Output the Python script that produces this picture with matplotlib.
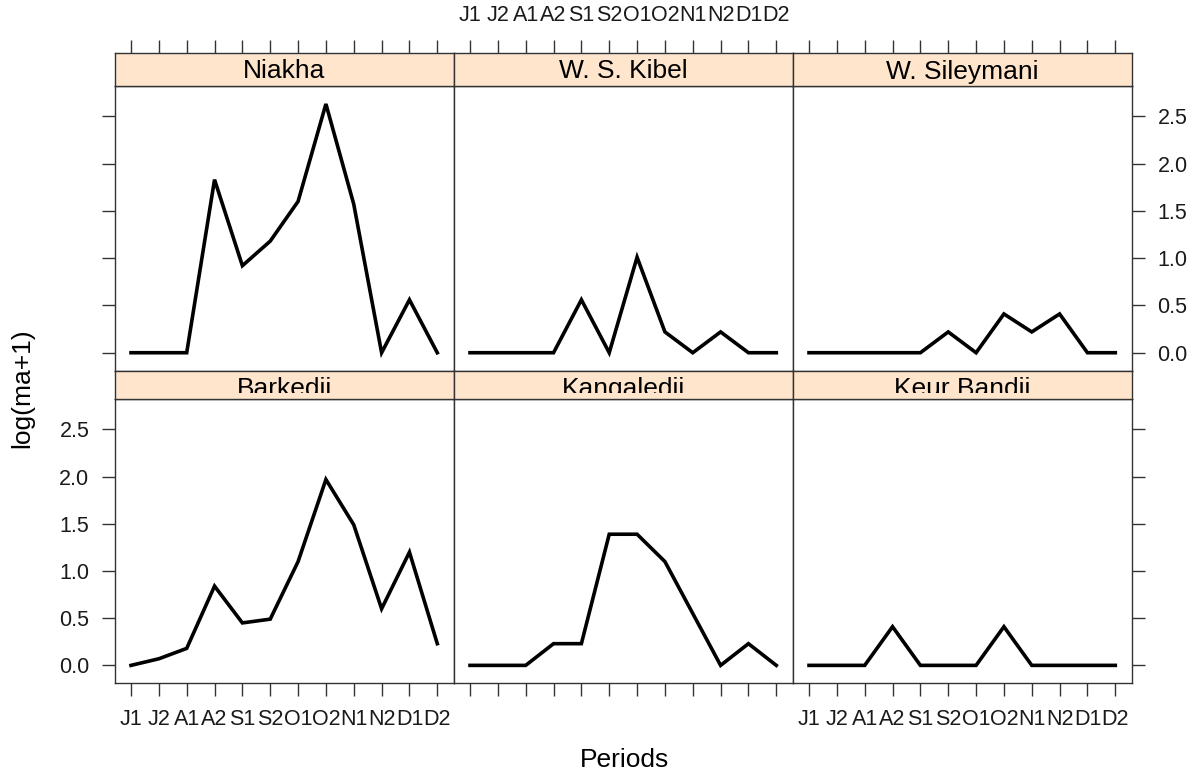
import matplotlib
matplotlib.use('Agg')
import matplotlib.pyplot as plt
from matplotlib.transforms import Bbox, TransformedBbox

plt.rcParams['font.family'] = ['Liberation Sans', 'DejaVu Sans']

# periods (two halves of each month, June to December)
periods = ['J1', 'J2', 'A1', 'A2', 'S1', 'S2', 'O1', 'O2', 'N1', 'N2', 'D1', 'D2']

# log(ma+1) per site
niakha = [0.0, 0.0, 0.0, 1.83, 0.92, 1.18, 1.6, 2.63, 1.57, 0.0, 0.56, 0.0]
ws_kibel = [0.0, 0.0, 0.0, 0.0, 0.56, 0.0, 1.01, 0.22, 0.0, 0.22, 0.0, 0.0]
w_sileymani = [0.0, 0.0, 0.0, 0.0, 0.0, 0.22, 0.0, 0.41, 0.22, 0.41, 0.0, 0.0]
barkedji = [0.0, 0.07, 0.18, 0.84, 0.45, 0.49, 1.1, 1.97, 1.49, 0.6, 1.2, 0.23]
kangaledji = [0.0, 0.0, 0.0, 0.23, 0.23, 1.39, 1.39, 1.1, 0.55, 0.0, 0.23, 0.0]
keur_bandji = [0.0, 0.0, 0.0, 0.41, 0.0, 0.0, 0.0, 0.41, 0.0, 0.0, 0.0, 0.0]

sites = ['Niakha', 'W. S. Kibel', 'W. Sileymani', 'Barkedji', 'Kangaledji', 'Keur Bandji']
series = [niakha, ws_kibel, w_sileymani, barkedji, kangaledji, keur_bandji]
yticks = [0.0, 0.5, 1.0, 1.5, 2.0, 2.5]

W, H = 1198, 776
FRAME = '#333333'
STRIP = '#ffe5cc'
TICK_FS = 15.5
LAB_FS = 19
TLEN = 9.4

fig = plt.figure(figsize=(W / 100, H / 100), dpi=100)

left = 115
pw = (1132 - 115) / 3.0
# (panel top, panel bottom, strip top, text clip bottom) in pixels from the top
rows = [(86, 370.7, 53, 86), (399.3, 683.3, 370.7, 393.3)]
x = list(range(len(periods)))

for i, (name, vals) in enumerate(zip(sites, series)):
    r, c = divmod(i, 3)
    ptop, pbot, stop, cbot = rows[r]
    x0 = left + c * pw
    ax = fig.add_axes([x0 / W, 1 - pbot / H, pw / W, (pbot - ptop) / H])
    sax = fig.add_axes([x0 / W, 1 - ptop / H, pw / W, (ptop - stop) / H])

    ax.plot(x, vals, color='black', lw=2.6, solid_joinstyle='miter')
    ax.set_xlim(-0.575, 11.6)
    ax.set_ylim(-0.19, 2.82)
    ax.set_xticks(x)
    ax.set_xticklabels(periods)
    ax.set_yticks(yticks)
    ax.set_yticklabels(['%.1f' % v for v in yticks])
    for s in ax.spines.values():
        s.set_color(FRAME)
        s.set_linewidth(1.0)

    ax.tick_params(direction='out', length=TLEN, width=1.0, color=FRAME,
                   labelsize=TICK_FS, labelcolor='#1a1a1a',
                   top=False, bottom=(r == 1), left=(c == 0), right=(c == 2),
                   labelbottom=(r == 1 and c != 1), labeltop=False,
                   labelleft=(r == 1 and c == 0), labelright=(r == 0 and c == 2))
    ax.tick_params(axis='x', pad=9)
    ax.tick_params(axis='y', pad=9)

    # strip
    sax.set_facecolor(STRIP)
    sax.set_xlim(ax.get_xlim())
    sax.set_ylim(0, 1)
    sax.set_yticks([])
    sax.set_xticks(x)
    sax.set_xticklabels(periods)
    sax.tick_params(direction='out', length=TLEN, width=1.0, color=FRAME,
                    labelsize=TICK_FS, labelcolor='#1a1a1a', pad=10,
                    bottom=False, labelbottom=False,
                    top=(r == 0), labeltop=(r == 0 and c == 1))
    for s in sax.spines.values():
        s.set_color(FRAME)
        s.set_linewidth(1.0)
    sh = ptop - stop
    ty = 1 - 25.5 / sh
    t = sax.text(0.5, ty, name, transform=sax.transAxes, ha='center', va='baseline',
                 fontsize=LAB_FS, color='black')
    t.set_clip_on(True)
    t.set_clip_box(TransformedBbox(Bbox([[0, (ptop - cbot) / sh], [1, 1]]), sax.transAxes))

fig.text(624 / W, 1 - 760 / H, 'Periods', ha='center', va='center', fontsize=LAB_FS)
fig.text(22 / W, 1 - 388 / H, 'log(ma+1)', ha='center', va='center',
         rotation=90, fontsize=LAB_FS)

fig.savefig('out.png', dpi=100, facecolor='white')
